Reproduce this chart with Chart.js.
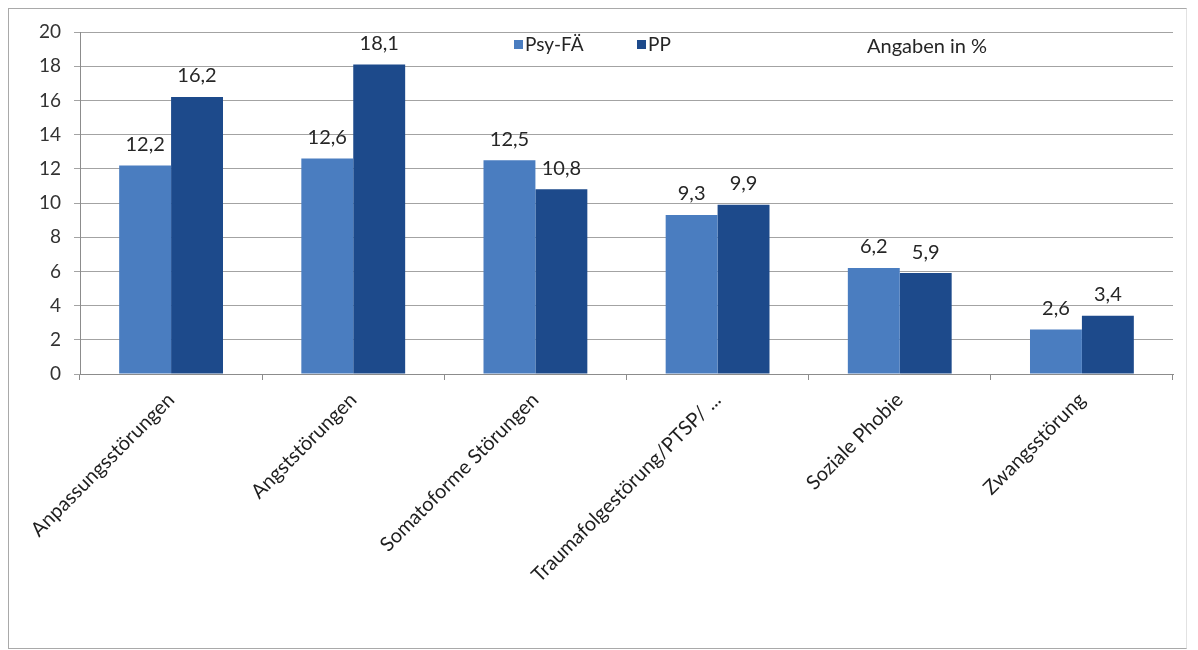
<!DOCTYPE html>
<html>
<head>
<meta charset="utf-8">
<script src="https://cdn.jsdelivr.net/npm/chart.js@4.4.0/dist/chart.umd.min.js"></script>
<style>
    body { margin: 0; background: #fff; }
    #wrap { position: relative; width: 1198px; height: 650px; }
    #frame { position: absolute; left: 8px; top: 8px; width: 1179px; height: 641px; box-sizing: border-box; border: 1px solid #a9a9a9; border-right-color: #e2e2e2; }
    #myChart { position: absolute; left: 0; top: 0; }
</style>
</head>
<body>
<div id="wrap">
    <div id="frame"></div>
    <canvas id="myChart" width="1198" height="650"></canvas>
</div>
<script>
let categories = [
    "Anpassungsstörungen",
    "Angststörungen",
    "Somatoforme Störungen",
    "Traumafolgestörung/PTSP/ ...",
    "Soziale Phobie",
    "Zwangsstörung"
];
let psyFA = [12.2, 12.6, 12.5, 9.3, 6.2, 2.6];
let pp = [16.2, 18.1, 10.8, 9.9, 5.9, 3.4];
let yTicks = [0, 2, 4, 6, 8, 10, 12, 14, 16, 18, 20];

const fontFamily = "Lato, 'Open Sans', sans-serif";

// value labels above each bar, with a German decimal comma
const valueLabels = {
    id: "valueLabels",
    afterDatasetsDraw(chart) {
        const ctx = chart.ctx;
        ctx.save();
        ctx.font = "20px " + fontFamily;
        ctx.fillStyle = "#262626";
        ctx.textAlign = "center";
        ctx.textBaseline = "bottom";
        chart.data.datasets.forEach((ds, i) => {
            chart.getDatasetMeta(i).data.forEach((bar, j) => {
                let txt = ds.data[j].toFixed(1).replace(".", ",");
                ctx.fillText(txt, bar.x, bar.y - 11);
            });
        });
        ctx.restore();
    }
};

// legend and unit note sit inside the plot, under the top gridline
const innerLegend = {
    id: "innerLegend",
    afterDraw(chart) {
        const ctx = chart.ctx;
        const a = chart.chartArea;
        const y = a.top + 13;
        ctx.save();
        ctx.font = "19px " + fontFamily;
        ctx.textBaseline = "middle";
        ctx.textAlign = "left";
        let x = a.left + 434;
        chart.data.datasets.forEach((ds) => {
            ctx.fillStyle = ds.backgroundColor;
            ctx.fillRect(x, y - 5, 9, 9);
            ctx.fillStyle = "#262626";
            ctx.fillText(ds.label, x + 11, y);
            x += 123;
        });
        ctx.font = "20px " + fontFamily;
        ctx.fillText("Angaben in %", a.left + 787, y + 2);
        ctx.restore();
    }
};

var ctx = document.getElementById("myChart").getContext("2d");
var myChart = new Chart(ctx, {
    type: "bar",
    data: {
        labels: categories,
        datasets: [{
            label: "Psy-FÄ",
            data: psyFA,
            backgroundColor: "#4a7dc0",
            borderWidth: 0,
        }, {
            label: "PP",
            data: pp,
            backgroundColor: "#1d4a8b",
            borderWidth: 0,
        }, ],
    },
    options: {
        responsive: false,
        animation: false,
        layout: {
            padding: { left: 8, right: 25, top: 32, bottom: 0 }
        },
        datasets: {
            bar: { categoryPercentage: 0.57, barPercentage: 1.0 }
        },
        plugins: {
            legend: { display: false },
            tooltip: { enabled: false },
        },
        scales: {
            x: {
                afterFit(scale) { scale.height = 276; },
                grid: {
                    offset: true,
                    drawOnChartArea: false,
                    tickLength: 6,
                    color: "#8c8c8c",
                },
                border: { color: "#8c8c8c" },
                ticks: {
                    minRotation: 45,
                    maxRotation: 45,
                    padding: 8,
                    color: "#1e1e1e",
                    font: { family: fontFamily, size: 20 },
                },
            },
            y: {
                min: 0,
                max: 20,
                afterFit(scale) { scale.width = 72; },
                afterBuildTicks(scale) {
                    scale.ticks = yTicks.map(v => ({ value: v }));
                },
                grid: {
                    color: "#a3a3a3",
                    tickLength: 6,
                },
                border: { color: "#8c8c8c" },
                ticks: {
                    padding: 13,
                    color: "#333",
                    font: { family: fontFamily, size: 19 },
                },
            },
        },
    },
    plugins: [valueLabels, innerLegend],
});
</script>
</body>
</html>
